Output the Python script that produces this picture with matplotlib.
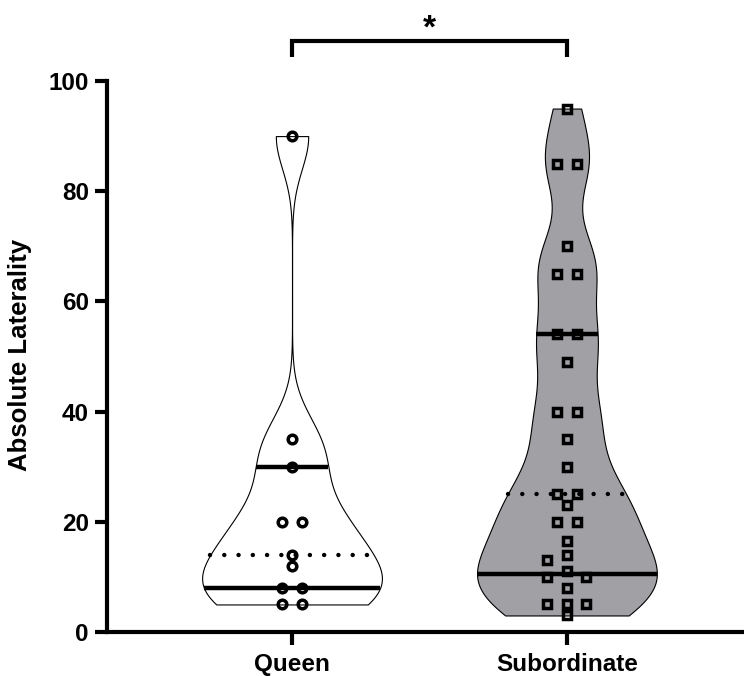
import numpy as np
import matplotlib
matplotlib.use("Agg")
import matplotlib.pyplot as plt

plt.rcParams['font.family'] = ['Liberation Sans', 'DejaVu Sans']
plt.rcParams['font.weight'] = 'bold'

# data
groups = ["Queen", "Subordinate"]
queen = [90, 35, 30, 20, 20, 14, 12, 8, 8, 5, 5]
subordinate = [95, 85, 85, 70, 65, 65, 54, 54, 49, 40, 40, 35, 30, 25, 25,
               23, 20, 20, 16.5, 14, 13, 11, 10, 10, 8, 5, 5, 5, 3]
yticks = [0, 20, 40, 60, 80, 100]
ylabel = "Absolute Laterality"
sig_label = "*"

fills = ["white", "#a0a0a5"]
markers = ["o", "s"]

W, H = 744, 676
fig = plt.figure(figsize=(W / 100, H / 100), dpi=100)
ax_l, ax_b, ax_r, ax_t = 107, 44, 744, 595   # pixel box of the axes
ax = fig.add_axes([ax_l / W, ax_b / H, (ax_r - ax_l) / W, (ax_t - ax_b) / H])
xlim = (-0.673, 1.644)
ylim = (0, 100)
ax.set_xlim(*xlim)
ax.set_ylim(*ylim)

xpx = (ax_r - ax_l) / (xlim[1] - xlim[0])
ypx = (ax_t - ax_b) / (ylim[1] - ylim[0])

bw = 6.0
max_half = 0.327


def swarm(vals, msize=10.5, gap=19.5):
    # simple beeswarm, equal values side by side, in pixel space
    uniq = sorted(set(vals), reverse=True)
    placed = []
    out = []
    for v in uniq:
        k = vals.count(v)
        if k == 1:
            cands = [[0.0], [-gap], [gap], [-2 * gap], [2 * gap]]
        else:
            base = (np.arange(k) - (k - 1) / 2)
            cands = [list(base * gap), list(base * gap * 2)]
        for c in cands:
            ok = True
            for (px, py) in placed:
                for cx in c:
                    if abs(cx - px) < msize and abs(v * ypx - py) < msize:
                        ok = False
            if ok:
                break
        for cx in c:
            placed.append((cx, v * ypx))
            out.append((cx / xpx, v))
    return out


for i, vals in enumerate([queen, subordinate]):
    arr = np.array(vals, dtype=float)
    yy = np.linspace(arr.min(), arr.max(), 400)
    dens = np.exp(-0.5 * ((yy[:, None] - arr[None, :]) / bw) ** 2).sum(axis=1)
    half = dens / dens.max() * max_half
    ax.fill_betweenx(yy, i - half, i + half, facecolor=fills[i],
                     edgecolor="black", lw=0.8, zorder=1)

    q1, med, q3 = np.percentile(arr, [25, 50, 75], method="weibull")
    for q in (q1, q3):
        w = np.interp(q, yy, half)
        ax.plot([i - w, i + w], [q, q], color="black", lw=3.2,
                solid_capstyle="butt", zorder=2)
    w = np.interp(med, yy, half)
    ax.plot([i - w, i + w], [med, med], color="black", lw=3.2,
            linestyle=(0, (0.01, 3.2)), dash_capstyle="round", zorder=2)

    pts = swarm(vals)
    ax.plot([i + p[0] for p in pts], [p[1] for p in pts], linestyle="none",
            marker=markers[i], ms=6.2, mew=2.5, mfc="none", mec="black",
            zorder=3)

# axes styling
for s in ["top", "right"]:
    ax.spines[s].set_visible(False)
for s in ["left", "bottom"]:
    ax.spines[s].set_linewidth(3)
ax.set_yticks(yticks)
ax.set_xticks([0, 1])
ax.set_xticklabels(groups)
ax.tick_params(axis="both", length=9, width=3, labelsize=17.5, pad=4)
ax.tick_params(axis="x", pad=6)

fig.text(20 / W, 1 - 355 / H, ylabel, rotation=90, ha="center", va="center",
         fontsize=18.5, fontweight="bold")

# significance bracket
ax.plot([0, 0, 1, 1], [104.4, 107.3, 107.3, 104.4], color="black", lw=3,
        clip_on=False, solid_joinstyle="miter", solid_capstyle="butt")
ax.text(0.5, 107.8, sig_label, ha="center", va="baseline", fontsize=24,
        fontweight="bold")

fig.savefig("out.png", dpi=100)
